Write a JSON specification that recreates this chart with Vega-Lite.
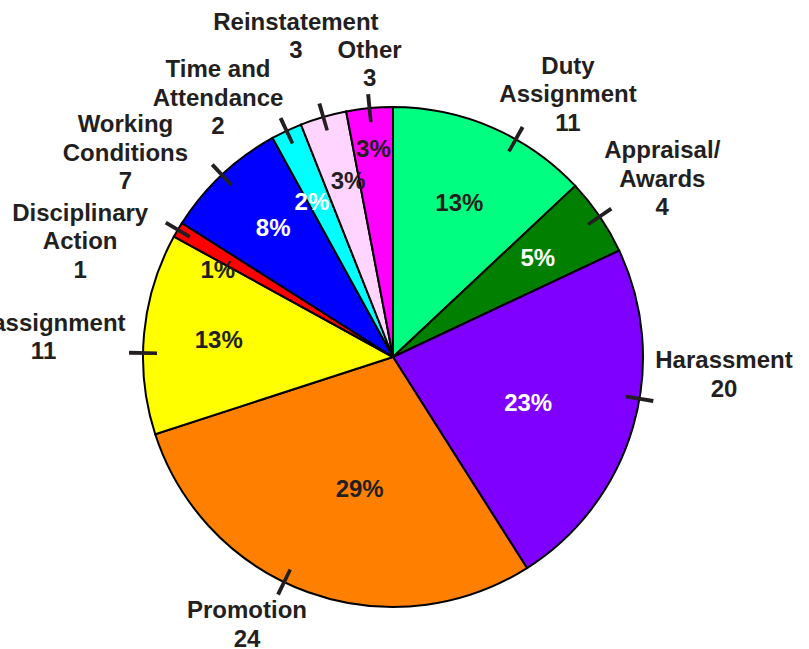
{
  "$schema": "https://vega.github.io/schema/vega-lite/v6.json",
  "width": 786,
  "height": 714,
  "autosize": "none",
  "padding": {"left": 0, "top": 0, "right": 23, "bottom": 0},
  "background": "white",
  "config": {"view": {"stroke": null}, "text": {"font": "Liberation Sans", "fontSize": 24, "fontWeight": "bold", "lineBreak": "\n", "lineHeight": 28.5, "color": "#231f20"}},
  "data": {
    "values": [
      {"category": "Duty Assignment", "label": "Duty\nAssignment", "count": 11, "pct": 13},
      {"category": "Appraisal/Awards", "label": "Appraisal/\nAwards", "count": 4, "pct": 5},
      {"category": "Harassment", "label": "Harassment", "count": 20, "pct": 23},
      {"category": "Promotion", "label": "Promotion", "count": 24, "pct": 29},
      {"category": "Reassignment", "label": "Reassignment", "count": 11, "pct": 13},
      {"category": "Disciplinary Action", "label": "Disciplinary\nAction", "count": 1, "pct": 1},
      {"category": "Working Conditions", "label": "Working\nConditions", "count": 7, "pct": 8},
      {"category": "Time and Attendance", "label": "Time and\nAttendance", "count": 2, "pct": 2},
      {"category": "Reinstatement", "label": "Reinstatement", "count": 3, "pct": 3},
      {"category": "Other", "label": "Other", "count": 3, "pct": 3}
    ]
  },
  "transform": [
    {"window": [{"op": "row_number", "as": "idx"}]},
    {"window": [{"op": "sum", "field": "pct", "as": "cum"}], "sort": [{"field": "idx"}], "frame": [null, 0]},
    {"calculate": "datum.cum - datum.pct / 2", "as": "tm"},
    {"calculate": "datum.tm - 0.12", "as": "t0"},
    {"calculate": "datum.tm + 0.12", "as": "t1"},
    {"calculate": "datum.label + '\\n' + datum.count", "as": "outer"},
    {"calculate": "datum.pct + '%'", "as": "pctText"}
  ],
  "encoding": {
    "theta": {"field": "tm", "type": "quantitative", "stack": null, "scale": {"domain": [0, 100]}}
  },
  "layer": [
    {
      "mark": {"type": "arc", "radius": 250, "stroke": "black", "strokeWidth": 2},
      "encoding": {
        "theta": {"field": "pct", "type": "quantitative", "stack": true, "scale": {"domain": [0, 100]}},
        "order": {"field": "idx", "type": "quantitative"},
        "color": {
          "field": "category",
          "type": "nominal",
          "legend": null,
          "scale": {
            "domain": ["Duty Assignment", "Appraisal/Awards", "Harassment", "Promotion", "Reassignment", "Disciplinary Action", "Working Conditions", "Time and Attendance", "Reinstatement", "Other"],
            "range": ["#00FF80", "#007F00", "#8000FF", "#FF8000", "#FFFF00", "#FF0000", "#0000FF", "#00FFFF", "#FFD5FF", "#FF00FF"]
          }
        }
      }
    },
    {
      "transform": [{"filter": {"not": {"field": "category", "oneOf": ["Duty Assignment", "Harassment", "Promotion", "Reassignment"]}}}],
      "mark": {"type": "arc", "radius": 264, "radius2": 236, "fill": "#231f20"},
      "encoding": {
        "theta": {"field": "t0", "type": "quantitative", "stack": null, "scale": {"domain": [0, 100]}},
        "theta2": {"field": "t1"}
      }
    },
    {
      "transform": [{"filter": {"field": "category", "oneOf": ["Duty Assignment", "Promotion"]}}],
      "mark": {"type": "arc", "radius": 264, "radius2": 236, "fill": "#231f20", "thetaOffset": 0.105, "theta2Offset": 0.105},
      "encoding": {
        "theta": {"field": "t0", "type": "quantitative", "stack": null, "scale": {"domain": [0, 100]}},
        "theta2": {"field": "t1"}
      }
    },
    {
      "transform": [{"filter": {"field": "category", "equal": "Harassment"}}],
      "mark": {"type": "arc", "radius": 264, "radius2": 236, "fill": "#231f20", "thetaOffset": -0.115, "theta2Offset": -0.115},
      "encoding": {
        "theta": {"field": "t0", "type": "quantitative", "stack": null, "scale": {"domain": [0, 100]}},
        "theta2": {"field": "t1"}
      }
    },
    {
      "transform": [{"filter": {"field": "category", "equal": "Reassignment"}}],
      "mark": {"type": "arc", "radius": 264, "radius2": 236, "fill": "#231f20", "thetaOffset": -0.078, "theta2Offset": -0.078},
      "encoding": {
        "theta": {"field": "t0", "type": "quantitative", "stack": null, "scale": {"domain": [0, 100]}},
        "theta2": {"field": "t1"}
      }
    },
    {
      "transform": [{"filter": {"field": "category", "equal": "Harassment"}}],
      "mark": {"type": "text", "radius": 143, "thetaOffset": 0.05, "color": "white"},
      "encoding": {"text": {"field": "pctText"}}
    },
    {
      "transform": [{"filter": {"field": "category", "equal": "Promotion"}}],
      "mark": {"type": "text", "radius": 137, "thetaOffset": -0.1},
      "encoding": {"text": {"field": "pctText"}}
    },
    {
      "transform": [{"filter": {"field": "category", "equal": "Duty Assignment"}}],
      "mark": {"type": "text", "radius": 167},
      "encoding": {"text": {"field": "pctText"}}
    },
    {
      "transform": [{"filter": {"field": "category", "oneOf": ["Appraisal/Awards", "Reassignment", "Working Conditions"]}}],
      "mark": {"type": "text", "radius": 175},
      "encoding": {
        "text": {"field": "pctText"},
        "color": {"condition": {"test": "indexof(['Appraisal/Awards','Working Conditions'], datum.category) >= 0", "value": "white"}, "value": "#231f20"}
      }
    },
    {
      "transform": [{"filter": {"field": "category", "equal": "Time and Attendance"}}],
      "mark": {"type": "text", "radius": 174, "thetaOffset": -0.045, "color": "white"},
      "encoding": {"text": {"field": "pctText"}}
    },
    {
      "transform": [{"filter": {"field": "category", "equal": "Reinstatement"}}],
      "mark": {"type": "text", "radius": 181, "thetaOffset": 0.032},
      "encoding": {"text": {"field": "pctText"}}
    },
    {
      "transform": [{"filter": {"field": "category", "equal": "Disciplinary Action"}}],
      "mark": {"type": "text", "radius": 195, "thetaOffset": -0.08},
      "encoding": {"text": {"field": "pctText"}}
    },
    {
      "transform": [{"filter": {"field": "category", "equal": "Other"}}],
      "mark": {"type": "text", "radius": 208},
      "encoding": {"text": {"field": "pctText"}}
    },
    {
      "transform": [{"filter": {"field": "category", "equal": "Reassignment"}}],
      "mark": {"type": "text", "radius": 351},
      "encoding": {"text": {"field": "outer"}}
    },
    {
      "transform": [{"filter": {"field": "category", "equal": "Reinstatement"}}],
      "mark": {"type": "text", "radius": 348},
      "encoding": {"text": {"field": "outer"}}
    },
    {
      "transform": [{"filter": {"field": "category", "equal": "Appraisal/Awards"}}],
      "mark": {"type": "text", "radius": 339, "thetaOffset": -0.056},
      "encoding": {"text": {"field": "outer"}}
    },
    {
      "transform": [{"filter": {"field": "category", "equal": "Disciplinary Action"}}],
      "mark": {"type": "text", "radius": 344, "thetaOffset": -0.105},
      "encoding": {"text": {"field": "outer"}}
    },
    {
      "transform": [{"filter": {"field": "category", "equal": "Working Conditions"}}],
      "mark": {"type": "text", "radius": 354, "thetaOffset": -0.103},
      "encoding": {"text": {"field": "outer"}}
    },
    {
      "transform": [{"filter": {"field": "category", "equal": "Time and Attendance"}}],
      "mark": {"type": "text", "radius": 336, "thetaOffset": -0.108},
      "encoding": {"text": {"field": "outer"}}
    },
    {
      "transform": [{"filter": {"field": "category", "equal": "Duty Assignment"}}],
      "mark": {"type": "text", "radius": 339, "thetaOffset": 0.134},
      "encoding": {"text": {"field": "outer"}}
    },
    {
      "transform": [{"filter": {"field": "category", "equal": "Harassment"}}],
      "mark": {"type": "text", "radius": 331, "thetaOffset": -0.27},
      "encoding": {"text": {"field": "outer"}}
    },
    {
      "transform": [{"filter": {"field": "category", "equal": "Promotion"}}],
      "mark": {"type": "text", "radius": 293, "thetaOffset": 0.176},
      "encoding": {"text": {"field": "outer"}}
    },
    {
      "transform": [{"filter": {"field": "category", "equal": "Other"}}],
      "mark": {"type": "text", "radius": 307, "thetaOffset": 0.018},
      "encoding": {"text": {"field": "outer"}}
    }
  ]
}
